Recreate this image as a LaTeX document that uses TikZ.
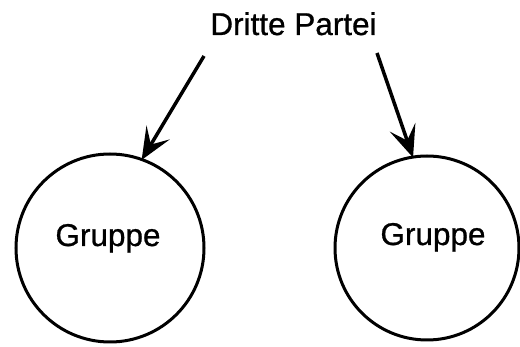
\documentclass[tikz,border=0pt]{standalone}
\usepackage{fontspec}
\setmainfont{Liberation Sans}
\newfontfamily\hvheavy{Liberation Sans}[FakeBold=0.8]
\usetikzlibrary{arrows.meta}
\begin{document}
\begin{tikzpicture}[x=1pt,y=-1pt,
  grp/.style={circle, draw, line width=3pt, minimum size=188pt, inner sep=0pt},
  lbl/.style={font=\hvheavy\fontsize{31.5}{36}\selectfont, inner sep=0pt, anchor=base},
  arr/.style={line width=3.5pt, -{Stealth[length=32pt, width=27pt, inset=14pt]}, shorten >=-2pt}]
\useasboundingbox (0,0) rectangle (520,347);
\node[lbl] (dp) at (293.5,35) {Dritte Partei};
\node[grp] (g1) at (110,248) {};
\node[grp, minimum size=184pt] (g2) at (427,248) {};
\node[lbl] (t1) at (108,246) {Gruppe};
\node[lbl] (t2) at (433,245) {Gruppe};
\coordinate (a1) at (204,56);
\coordinate (a2) at (377,53);
\draw[arr] (a1) -- (g1.70);
\draw[arr] (a2) -- (g2.99);
\end{tikzpicture}
\end{document}
